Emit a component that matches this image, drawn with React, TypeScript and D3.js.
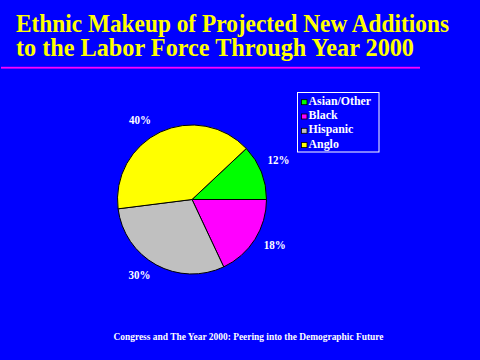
import React from "react";
import * as d3 from "d3";

const categories = ["Asian/Other", "Black", "Hispanic", "Anglo"];
const values = [12, 18, 30, 40];
const labels = ["12%", "18%", "30%", "40%"];
const colors = ["#00ff00", "#ff00ff", "#c0c0c0", "#ffff00"];
const titleLines = ["Ethnic Makeup of Projected New Additions", "to the Labor Force Through Year 2000"];
const footer = "Congress and The Year 2000: Peering into the Demographic Future";

// layout tweaks for label placement (degrees nudge from mid-angle, radius)
const labelNudgeDeg = [-3, -4, 6, -8];
const labelRadius = [95, 94, 92, 95];

export default function App() {
  const W = 480, H = 360;
  const cx = 192, cy = 199.5, r = 74.5;
  const start = (46.8 * Math.PI) / 180;
  const pie = d3.pie<number>().sort(null).startAngle(start).endAngle(start + 2 * Math.PI);
  const arcs = pie(values);
  const arc = d3.arc<d3.PieArcDatum<number>>().innerRadius(0).outerRadius(r);
  const font = "'Liberation Serif', 'DejaVu Serif', serif";
  return (
    <svg width={W} height={H} style={{ position: "absolute", left: 0, top: 0, display: "block" }}>
      <rect width={W} height={H} fill="#0000ff" />
      <text x={16} y={31.5} fill="#ffff00" fontFamily={font} fontWeight="bold" fontSize={25} textLength={433} lengthAdjust="spacingAndGlyphs">
        {titleLines[0]}
      </text>
      <text x={16} y={55.5} fill="#ffff00" fontFamily={font} fontWeight="bold" fontSize={25} textLength={398} lengthAdjust="spacingAndGlyphs">
        {titleLines[1]}
      </text>
      <rect x={1} y={66.8} width={419} height={1.8} fill="#ff00ff" />
      <g transform={`translate(${cx},${cy})`}>
        {arcs.map((a, i) => (
          <path key={i} d={arc(a) || ""} fill={colors[i]} stroke="#000" strokeWidth={1} />
        ))}
        {arcs.map((a, i) => {
          const mid = (a.startAngle + a.endAngle) / 2 + (labelNudgeDeg[i] * Math.PI) / 180;
          const x = labelRadius[i] * Math.sin(mid);
          const y = -labelRadius[i] * Math.cos(mid);
          return (
            <text key={i} x={x} y={y} dy="0.35em" textAnchor="middle" fill="#fff" fontFamily={font} fontWeight="bold" fontSize={12.5} textLength={22} lengthAdjust="spacingAndGlyphs">
              {labels[i]}
            </text>
          );
        })}
      </g>
      <rect x={297.5} y={92.5} width={81.5} height={59.5} fill="none" stroke="#fff" strokeWidth={1} />
      {categories.map((c, i) => (
        <g key={c} transform={`translate(301,${104.7 + i * 14.3})`}>
          <rect x={0.5} y={-5} width={5.5} height={5} fill={colors[i]} stroke="#000" strokeWidth={0.8} />
          <text transform="translate(7.5,0) scale(0.88,1)" fill="#fff" fontFamily={font} fontWeight="bold" fontSize={13.5}>
            {c}
          </text>
        </g>
      ))}
      <text x={113.5} y={336.5} dy="0.35em" fill="#fff" fontFamily={font} fontWeight="bold" fontSize={9.5} textLength={270} lengthAdjust="spacingAndGlyphs">
        {footer}
      </text>
    </svg>
  );
}
